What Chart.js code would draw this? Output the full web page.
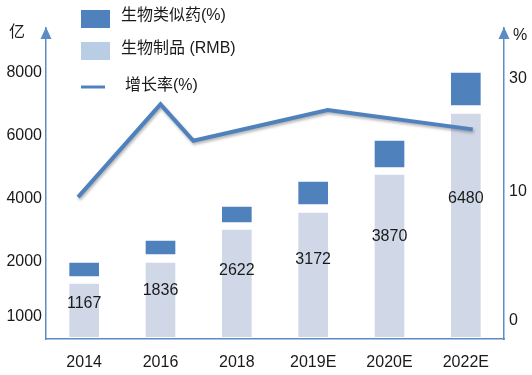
<!DOCTYPE html>
<html>
<head>
<meta charset="utf-8">
<script src="https://cdn.jsdelivr.net/npm/chart.js@4/dist/chart.umd.min.js"></script>
<style>
  body { margin:0; background:#fff; }
  #wrap { width:532px; height:375px; }
</style>
</head>
<body>
<div id="wrap"><canvas id="c" width="532" height="375"></canvas></div>
<script>
// categories and values (in left-axis units)
const years         = ['2014', '2016', '2018', '2019E', '2020E', '2022E'];
const productTops   = [1333, 2000, 3048, 3587, 4794, 6730];   // 生物制品 bar tops
const productLabels = ['1167', '1836', '2622', '3172', '3870', '6480'];
const similarLow    = [1524, 2222, 3238, 3810, 4984, 6952];   // 生物类似药 box bottoms
const similarHigh   = [2000, 2698, 3778, 4571, 5873, 8032];   // 生物类似药 box tops
const barBase       = -400;

// growth line (% on right axis), x in category index units
const growthX = [-0.08, 1, 1.43, 3.19, 5.09];
const growth  = [9.1, 25.4, 19.0, 24.4, 21.0];

// axis ticks as printed
const leftTickValues  = [254, 2000, 4000, 6000, 8000];
const leftTickLabels  = ['1000', '2000', '4000', '6000', '8000'];
const rightTickValues = [-12.6, 10, 30];
const rightTickLabels = ['0', '10', '30'];

const dark  = '#4F81BD';
const light = '#D0D8E8';
const axisColor = '#5B8CC6';
const FONT = '"Liberation Sans", "Noto Sans CJK SC", Arial, sans-serif';
const txt = '#1a1a1a';

const extras = {
  id: 'extras',
  beforeDatasetDraw(chart, args) {
    if (args.meta.type === 'line') {
      const ctx = chart.ctx;
      ctx.save();
      ctx.shadowColor = 'rgba(0,0,0,0.3)';
      ctx.shadowBlur = 3;
      ctx.shadowOffsetX = 1;
      ctx.shadowOffsetY = 2;
    }
  },
  afterDatasetDraw(chart, args) {
    if (args.meta.type === 'line') chart.ctx.restore();
  },
  afterDraw(chart) {
    const ctx = chart.ctx;
    const {left, right, top} = chart.chartArea;
    ctx.save();
    // arrow heads
    ctx.fillStyle = axisColor;
    [left, right].forEach(x => {
      ctx.beginPath();
      ctx.moveTo(x, top - 1);
      ctx.lineTo(x - 5.5, top + 11);
      ctx.lineTo(x + 5.5, top + 11);
      ctx.closePath();
      ctx.fill();
    });
    // unit labels
    ctx.fillStyle = txt;
    ctx.font = '16px ' + FONT;
    ctx.textBaseline = 'middle';
    ctx.textAlign = 'left';
    ctx.fillText('亿', 9, 33);
    ctx.fillText('%', 513, 36);

    // bar value labels
    const meta = chart.getDatasetMeta(1);
    ctx.textAlign = 'center';
    meta.data.forEach((bar, i) => {
      const y = bar.y + 0.38 * (bar.base - bar.y);
      ctx.fillText(productLabels[i], bar.x, y);
    });

    // legend
    ctx.textAlign = 'left';
    ctx.fillStyle = dark;
    ctx.fillRect(81, 10, 29, 18);
    ctx.fillStyle = '#B9CDE5';
    ctx.fillRect(81, 42, 29, 18);
    ctx.strokeStyle = dark;
    ctx.lineWidth = 3;
    ctx.beginPath();
    ctx.moveTo(81, 87);
    ctx.lineTo(105, 87);
    ctx.stroke();
    ctx.fillStyle = txt;
    ctx.fillText('生物类似药(%)', 121, 16);
    ctx.fillText('生物制品 (RMB)', 121, 49);
    ctx.fillText('增长率(%)', 125, 86);
    ctx.restore();
  }
};

new Chart(document.getElementById('c'), {
  data: {
    labels: years,
    datasets: [
      {
        type: 'line', label: '增长率(%)', order: 0,
        xAxisID: 'x2', yAxisID: 'y2',
        data: growthX.map((x, i) => ({ x, y: growth[i] })),
        borderColor: dark, borderWidth: 4, pointRadius: 0, tension: 0,
        borderJoinStyle: 'miter',
      },
      {
        type: 'bar', label: '生物制品 (RMB)', order: 1,
        xAxisID: 'x', yAxisID: 'y', grouped: false,
        data: productTops.map(v => [barBase, v]),
        backgroundColor: light, borderColor: '#ffffff', borderWidth: 1,
        borderSkipped: false, barThickness: 31,
      },
      {
        type: 'bar', label: '生物类似药(%)', order: 1,
        xAxisID: 'x', yAxisID: 'y', grouped: false,
        data: similarLow.map((v, i) => [v, similarHigh[i]]),
        backgroundColor: dark, borderColor: '#ffffff', borderWidth: 1,
        borderSkipped: false, barThickness: 31,
      },
    ],
  },
  options: {
    responsive: false, animation: false,
    layout: { padding: { top: 28, left: 0, right: 0, bottom: 0 } },
    plugins: { legend: { display: false }, tooltip: { enabled: false } },
    scales: {
      x: {
        type: 'category', offset: true,
        grid: { display: false, drawTicks: false },
        border: { color: axisColor, width: 1.5 },
        ticks: { padding: 14, color: txt, font: { family: FONT, size: 16 }, maxRotation: 0 },
        afterFit(s) { s.height = 36; },
      },
      x2: { type: 'linear', display: false, min: -0.5, max: 5.5 },
      y: {
        type: 'linear', position: 'left', min: -444, max: 9429,
        grid: { display: false, drawTicks: false },
        border: { color: axisColor, width: 1.5 },
        ticks: { padding: 4, color: txt, font: { family: FONT, size: 16 },
                 callback: (v, i) => leftTickLabels[i] },
        afterBuildTicks(s) { s.ticks = leftTickValues.map(v => ({ value: v })); },
        afterFit(s) { s.width = 46; },
      },
      y2: {
        type: 'linear', position: 'right', min: -15.8, max: 38.8,
        grid: { display: false, drawTicks: false },
        border: { color: axisColor, width: 1.5 },
        ticks: { padding: 5, color: txt, font: { family: FONT, size: 16 },
                 callback: (v, i) => rightTickLabels[i] },
        afterBuildTicks(s) { s.ticks = rightTickValues.map(v => ({ value: v })); },
        afterFit(s) { s.width = 28; },
      },
    },
  },
  plugins: [extras],
});
</script>
</body>
</html>
